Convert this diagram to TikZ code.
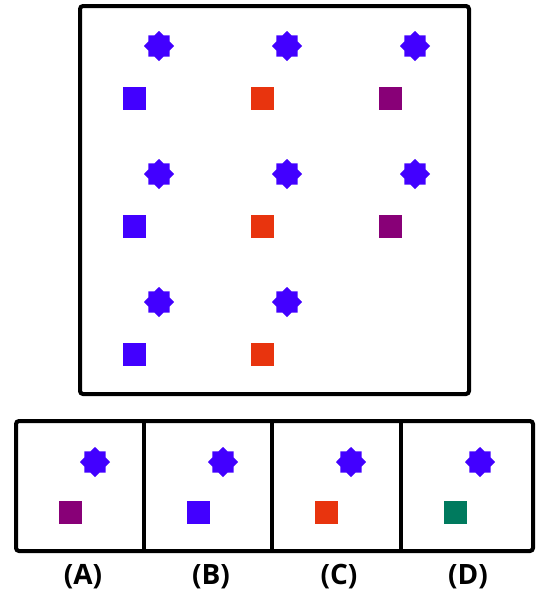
\documentclass[tikz,border=0pt]{standalone}
\usepackage{fontspec}
\setmainfont{Open Sans}
\usetikzlibrary{shapes.geometric}
\definecolor{cblue}{HTML}{4200FF}
\definecolor{cred}{HTML}{E8340E}
\definecolor{cpurple}{HTML}{880077}
\definecolor{cgreen}{HTML}{007A5E}
\newcommand{\lblfont}{\fontsize{28}{32}\selectfont\bfseries}
\tikzset{
  starnode/.style={star, star points=8, star point ratio=1.3, minimum size=30pt, inner sep=0pt, fill=cblue, draw=none},
  sqnode/.style={rectangle, minimum size=23pt, inner sep=0pt, draw=none},
  frame/.style={line width=4pt, rounded corners=3pt},
  lbl/.style={inner sep=0pt}
}
\begin{document}
\begin{tikzpicture}[x=1pt,y=-1pt]
\useasboundingbox (0,0) rectangle (550,600);
\draw[frame] (80,6) rectangle (469,394);
% grid
\foreach \c/\sx/\col in {1/159/cblue,2/287/cred,3/415/cpurple}{
  \foreach \r/\sy in {1/46,2/174,3/302}{
    \ifnum\c\r=33\else
    \node[starnode] (s\c\r) at (\sx,\sy) {};
    \node[sqnode, fill=\col] (q\c\r) at (\sx-25,\sy+52) {};
    \fi
  }
}
% options
\draw[frame] (16,421) rectangle (533,551);
\draw[line width=4pt] (144,421) -- (144,551);
\draw[line width=4pt] (272,421) -- (272,551);
\draw[line width=4pt] (401,421) -- (401,551);
\foreach \n/\x/\col in {A/82/cpurple,B/210/cblue,C/338/cred,D/467/cgreen}{
  \node[starnode] (os\n) at (\x+13,462) {};
  \node[sqnode, fill=\col] (oq\n) at (\x-12,512) {};
  \node[lbl] (ol\n) at (\x+1,577) {\lblfont(\n)};
}
\end{tikzpicture}
\end{document}
